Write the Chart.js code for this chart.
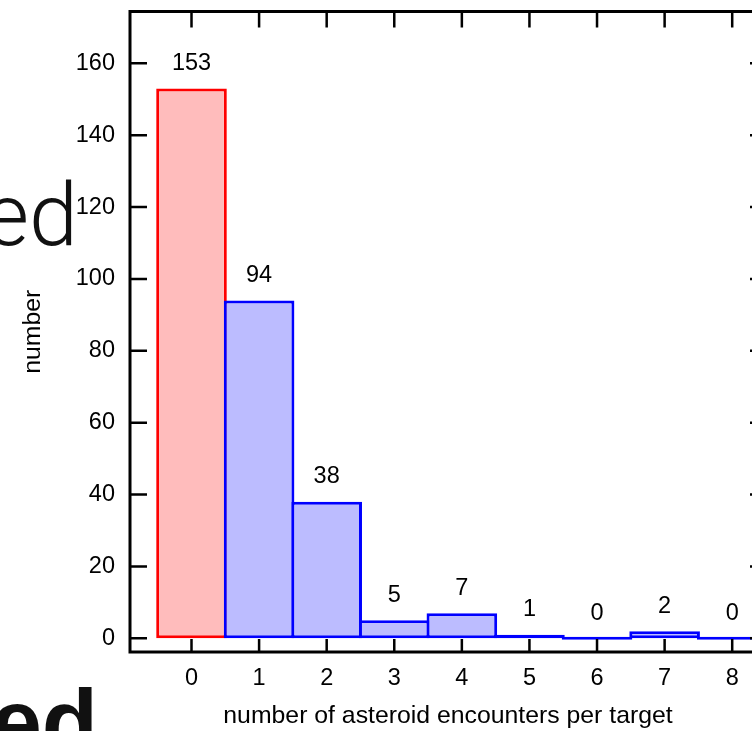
<!DOCTYPE html>
<html>
<head>
<meta charset="utf-8">
<script src="https://cdn.jsdelivr.net/npm/chart.js@4/dist/chart.umd.min.js"></script>
<style>
  html, body { margin: 0; padding: 0; background: #fff; overflow: hidden; width: 752px; height: 731px; }
  #wrap { position: relative; width: 752px; height: 731px; overflow: hidden; }
  .bg { position: absolute; white-space: nowrap; color: #111; text-align: right; line-height: 1; }
  #word1 { right: calc(752px - 78px); top: 171px; font-size: 88px; font-weight: 300; font-family: 'Roboto', 'Open Sans', 'Liberation Sans', sans-serif; }
  #word2 { right: calc(752px - 98px); top: 676px; font-size: 92px; font-weight: 700; font-family: 'Liberation Sans', sans-serif; }
  canvas { position: absolute; left: 0; top: 0; }
</style>
</head>
<body>
<div id="wrap">
  <div class="bg" id="word1">ed</div>
  <div class="bg" id="word2">ed</div>
  <canvas id="c" width="800" height="731"></canvas>
</div>
<script>
// Histogram: number of asteroid encounters per target
const encounters = [0, 1, 2, 3, 4, 5, 6, 7, 8];
const counts = [153, 94, 38, 5, 7, 1, 0, 2, 0];
const xRange = [-0.91, 8.5];
const yRange = [-3.8, 174.4];
const yStep = 20;

const FONT = "'Liberation Sans', Arial, Helvetica, sans-serif";
const RED = '#ff0000', RED_FILL = '#ffbcbc';
const BLUE = '#0000ff', BLUE_FILL = '#bcbcff';

// frame box with inward-pointing tick marks on all four sides
const framePlugin = {
  id: 'frame',
  afterDatasetsDraw(chart) {
    const { ctx, chartArea: a, scales: { x, y } } = chart;
    ctx.save();
    ctx.strokeStyle = '#000';
    ctx.lineWidth = 2.5;
    ctx.beginPath();
    x.ticks.forEach(t => {
      const px = x.getPixelForValue(t.value);
      ctx.moveTo(px, a.bottom); ctx.lineTo(px, a.bottom - 13);
      ctx.moveTo(px, a.top); ctx.lineTo(px, a.top + 16);
    });
    y.ticks.forEach(t => {
      const py = y.getPixelForValue(t.value);
      ctx.moveTo(a.left, py); ctx.lineTo(a.left + 17, py);
      ctx.moveTo(a.right, py); ctx.lineTo(a.right - 16, py);
    });
    ctx.stroke();
    ctx.lineWidth = 3;
    ctx.strokeRect(a.left, a.top, a.right - a.left, a.bottom - a.top);
    ctx.restore();
  }
};

// count written above each bar
const labelPlugin = {
  id: 'barLabels',
  afterDatasetsDraw(chart) {
    const { ctx, scales: { x, y } } = chart;
    ctx.save();
    ctx.fillStyle = '#000';
    ctx.font = '23.5px ' + FONT;
    ctx.textAlign = 'center';
    ctx.textBaseline = 'middle';
    counts.forEach((v, i) => {
      ctx.fillText(String(v), x.getPixelForValue(encounters[i]), y.getPixelForValue(v) - 25);
    });
    ctx.restore();
  }
};

new Chart(document.getElementById('c'), {
  type: 'bar',
  data: {
    datasets: [{
      data: encounters.map((e, i) => ({ x: e, y: counts[i] })),
      backgroundColor: c => c.dataIndex === 0 ? RED_FILL : BLUE_FILL,
      borderColor: c => c.dataIndex === 0 ? RED : BLUE,
      borderWidth: 3,
      borderSkipped: false,
      minBarLength: 3,
      barPercentage: 1.045,
      categoryPercentage: 1
    }]
  },
  options: {
    responsive: false,
    animation: false,
    layout: { padding: { top: 11.5, right: 34, left: 0, bottom: 0 } },
    plugins: { legend: { display: false }, tooltip: { enabled: false } },
    scales: {
      x: {
        type: 'linear',
        min: xRange[0], max: xRange[1],
        offset: false,
        grid: { display: false, drawTicks: false },
        border: { display: false },
        ticks: { stepSize: 1, includeBounds: false, color: '#000', padding: 12, font: { family: FONT, size: 23.5 } },
        title: { display: true, text: 'number of asteroid encounters per target', color: '#000', padding: { top: 0, bottom: 0 }, font: { family: FONT, size: 24.8 } },
        afterFit(s) { s.height = 79; s.paddingLeft = 0; s.paddingRight = 0; }
      },
      y: {
        min: yRange[0], max: yRange[1],
        grid: { display: false, drawTicks: false },
        border: { display: false },
        ticks: { stepSize: yStep, includeBounds: false, color: '#000', padding: 15, font: { family: FONT, size: 23.5 } },
        title: { display: true, text: 'number', color: '#000', padding: { top: 18, bottom: 0 }, font: { family: FONT, size: 24.8 } },
        afterFit(s) { s.width = 130; s.paddingTop = 0; s.paddingBottom = 0; }
      }
    }
  },
  plugins: [framePlugin, labelPlugin]
});
</script>
</body>
</html>
